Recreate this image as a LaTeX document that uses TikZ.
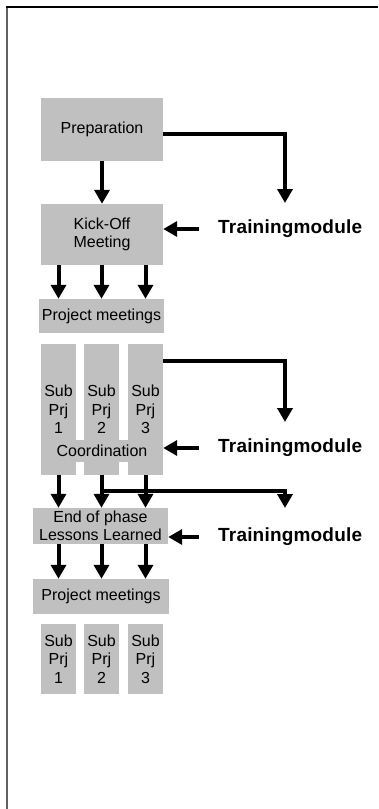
\documentclass[tikz,border=0pt]{standalone}
\usepackage{fontspec}
\setmainfont{Liberation Sans}
\usetikzlibrary{arrows.meta}
\definecolor{boxgray}{HTML}{C0C0C0}
\definecolor{framegray}{HTML}{606060}
\tikzset{
  box/.style={fill=boxgray, draw=none, inner sep=0pt, align=center,
    font=\fontsize{16}{18.5}\selectfont},
  arr/.style={line width=4pt, -{Triangle[width=15pt,length=14pt]}},
  tm/.style={font=\fontsize{19}{20}\selectfont\bfseries\addfontfeature{LetterSpace=1}, inner sep=0pt, anchor=west},
}
\begin{document}
\begin{tikzpicture}[x=1pt,y=-1pt]
\useasboundingbox (0,0) rectangle (378,809);
% frame
\draw[line width=2pt, framegray] (7,809) -- (7,7);
\draw[line width=1.5pt, black] (6,7) -- (378,7);

% boxes
\node[box, minimum width=122, minimum height=63] (prep) at (102,129.5) {Preparation};
\node[box, minimum width=122, minimum height=61] (kick) at (102,234.5) {Kick-Off\\Meeting};
\node[box, minimum width=125, minimum height=34] (pm1) at (101.5,316) {Project meetings};
\node[box, minimum width=35, minimum height=131] (s1) at (58.5,409.5) {Sub\\Prj\\1};
\node[box, minimum width=35, minimum height=131] (s2) at (101.5,409.5) {Sub\\Prj\\2};
\node[box, minimum width=35, minimum height=131] (s3) at (145.5,409.5) {Sub\\Prj\\3};
\node[box, minimum width=122, minimum height=22] (coord) at (102,451) {Coordination};
\node[box, minimum width=135, minimum height=36] (ep) at (100.5,526) {End of phase\\Lessons Learned};
\node[box, minimum width=136, minimum height=35] (pm2) at (101,596.5) {Project meetings};
\node[box, minimum width=35, minimum height=70] (b1) at (58.5,659) {Sub\\Prj\\1};
\node[box, minimum width=35, minimum height=70] (b2) at (101.5,659) {Sub\\Prj\\2};
\node[box, minimum width=35, minimum height=70] (b3) at (145.5,659) {Sub\\Prj\\3};

% training modules
\node[tm] (tm1) at (218,229) {Trainingmodule};
\node[tm] (tm2) at (218,448) {Trainingmodule};
\node[tm] (tm3) at (218,537) {Trainingmodule};

% free ends
\coordinate (t1) at (285,203);
\coordinate (t2) at (285,422);
\coordinate (t3) at (285,508);

% connectors
\draw[arr] (prep.south) -- (kick.north);
\draw[arr] (prep.east |- 0,134) -| (t1);
\draw[arr, shorten <=19pt] (tm1.west) -- (tm1.west -| kick.east);

\draw[arr] (kick.south -| s1) -- (pm1.north -| s1);
\draw[arr] (kick.south -| s2) -- (pm1.north -| s2);
\draw[arr] (kick.south -| s3) -- (pm1.north -| s3);

\draw[arr] (s3.east |- 0,361) -| (t2);
\draw[arr, shorten <=19pt] (tm2.west) -- (tm2.west -| coord.east);

\draw[arr] (s1.south) -- (s1.south |- ep.north);
\draw[arr] (s2.south) -- (s2.south |- ep.north);
\draw[arr] (s3.south) -- (s3.south |- ep.north);
\draw[arr] (s2.south |- 0,491) -| (t3);
\draw[arr, shorten <=19pt] (tm3.west) -- (tm3.west -| ep.east);

\draw[arr] (ep.south -| s1) -- (pm2.north -| s1);
\draw[arr] (ep.south -| s2) -- (pm2.north -| s2);
\draw[arr] (ep.south -| s3) -- (pm2.north -| s3);
\end{tikzpicture}
\end{document}
